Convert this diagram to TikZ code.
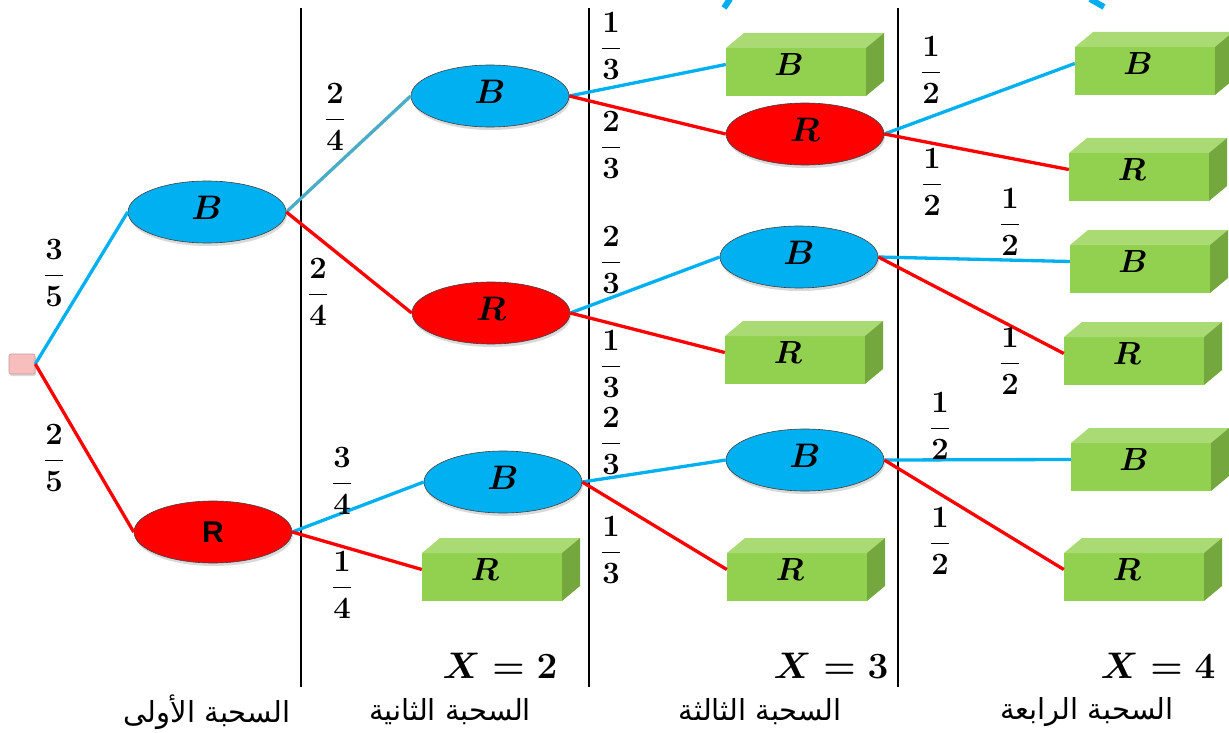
\RequirePackage{fix-cm}
\documentclass[tikz,border=0pt]{standalone}
\usepackage{amsmath}
\usepackage{fontspec}
\usetikzlibrary{shapes.geometric,shadows,calc}
\TeXXeTstate=1
\newfontfamily\arabicfont[Script=Arabic]{DejaVu Sans}
\newfontfamily\arialfont{Liberation Sans}
\definecolor{myblue}{RGB}{0,176,240}
\definecolor{myred}{RGB}{255,0,0}
\definecolor{myteal}{RGB}{75,172,198}
\definecolor{gfront}{RGB}{146,208,80}
\definecolor{gtop}{RGB}{169,218,116}
\definecolor{gside}{RGB}{116,167,62}
\definecolor{rootfill}{RGB}{248,190,190}
\tikzset{
  ell/.style={ellipse, minimum width=158pt, minimum height=62pt, inner sep=0pt,
    draw=black!75, line width=0.6pt, text depth=8pt,
    font=\fontsize{34}{34}\selectfont\boldmath,
    drop shadow={opacity=0.3, shadow xshift=1pt, shadow yshift=-3pt}},
  bell/.style={ell, fill=myblue},
  rell/.style={ell, fill=myred},
  cube/.style={rectangle, minimum width=158pt, minimum height=63pt, inner sep=0pt,
    path picture={
      \fill[gfront] (path picture bounding box.south west) rectangle
        ($(path picture bounding box.north east)+(-18pt,-15pt)$);
      \fill[gtop] ($(path picture bounding box.north west)+(0pt,-15pt)$) --
        ($(path picture bounding box.north west)+(18pt,0pt)$) --
        (path picture bounding box.north east) --
        ($(path picture bounding box.north east)+(-18pt,-15pt)$) -- cycle;
      \fill[gside] ($(path picture bounding box.north east)+(-18pt,-15pt)$) --
        (path picture bounding box.north east) --
        ($(path picture bounding box.south east)+(0pt,15pt)$) --
        ($(path picture bounding box.south east)+(-18pt,0pt)$) -- cycle;
    },
    label={[anchor=center, xshift=-16pt, inner sep=0pt,
      font=\fontsize{32}{32}\selectfont\boldmath]center:#1}},
  bl/.style={myblue, line width=3.3pt},
  rl/.style={myred, line width=3.3pt},
  tl/.style={myteal, line width=3.3pt},
  frac/.style={inner sep=0pt, font=\fontsize{31}{31}\selectfont\boldmath},
  xlab/.style={inner sep=0pt, font=\fontsize{37}{37}\selectfont\boldmath},
  arab/.style={inner sep=0pt, font=\arabicfont\fontsize{29}{34}\selectfont},
  sepline/.style={black, line width=1.1pt},
  rootsq/.style={rectangle, rounded corners=2pt, minimum width=26pt, minimum height=20pt,
    inner sep=0pt, fill=rootfill, draw=red!40!black!40, line width=0.6pt,
    drop shadow={opacity=0.3, shadow xshift=1pt, shadow yshift=-2pt}},
  topmark/.style={cyan, line width=6pt}
}
\begin{document}
\begin{tikzpicture}[x=1pt,y=-1pt]
\useasboundingbox (0,0) rectangle (1229,733);

% separators
\draw[sepline] (301,8) -- (301,687);
\draw[sepline] (589,8) -- (589,687);
\draw[sepline] (898,8) -- (898,687);

% cyan marks at the top edge
\draw[topmark] (724,8) -- (730,-1);
\draw[topmark] (1090,-1) -- (1104,7);

% nodes
\node[rootsq] (root) at (22,364) {};
\node[bell] (B1) at (207,212) {$B$};
\node[rell, text depth=0pt, font=\arialfont\bfseries\fontsize{30}{30}\selectfont] (R1) at (213,532) {R};
\node[bell] (B2a) at (490,96) {$B$};
\node[rell] (R2) at (491,313) {$R$};
\node[bell] (B2b) at (503,482) {$B$};
\node[cube=$R$] (Rbox2) at (501,569.5) {};
\node[cube=$B$] (B3a) at (805,64.5) {};
\node[rell] (R3a) at (805,134) {$R$};
\node[bell] (B3b) at (799,257) {$B$};
\node[cube=$R$] (R3b) at (804,352.5) {};
\node[bell] (B3c) at (805,460) {$B$};
\node[cube=$R$] (R3d) at (806,569.5) {};
\node[cube=$B$] (B4a) at (1154,63.5) {};
\node[cube=$R$] (R4b) at (1148,169.5) {};
\node[cube=$B$] (B4c) at (1149,261.5) {};
\node[cube=$R$] (R4d) at (1143,353.5) {};
\node[cube=$B$] (B4e) at (1150,459.5) {};
\node[cube=$R$] (R4f) at (1143,569.5) {};

% connectors
\draw[bl] (root.east) -- (B1.west);
\draw[rl] (root.east) -- (R1.west);
\draw[tl] (B1.east) -- (B2a.west);
\draw[rl] (B1.east) -- (R2.west);
\draw[bl] (R1.east) -- (B2b.west);
\draw[rl] (R1.east) -- (Rbox2.west);
\draw[bl] (B2a.east) -- (B3a.west);
\draw[rl] (B2a.east) -- (R3a.west);
\draw[bl] (R2.east) -- (B3b.west);
\draw[rl] (R2.east) -- (R3b.west);
\draw[bl] (B2b.east) -- (B3c.west);
\draw[rl] (B2b.east) -- (R3d.west);
\draw[bl] (R3a.east) -- (B4a.west);
\draw[rl] (R3a.east) -- (R4b.west);
\draw[bl] (B3b.east) -- (B4c.west);
\draw[rl] (B3b.east) -- (R4d.west);
\draw[bl] (B3c.east) -- (B4e.west);
\draw[rl] (B3c.east) -- (R4f.west);

% probabilities
\node[frac] (p1) at (54,273) {$\dfrac{3}{5}$};
\node[frac] (p2) at (54,458) {$\dfrac{2}{5}$};
\node[frac] (p3) at (335,117) {$\dfrac{2}{4}$};
\node[frac] (p4) at (318,292) {$\dfrac{2}{4}$};
\node[frac] (p5) at (342,481) {$\dfrac{3}{4}$};
\node[frac] (p6) at (342,585) {$\dfrac{1}{4}$};
\node[frac] (p7) at (611,46) {$\dfrac{1}{3}$};
\node[frac] (p8) at (611,145) {$\dfrac{2}{3}$};
\node[frac] (p9) at (611,260) {$\dfrac{2}{3}$};
\node[frac] (p10) at (611,364) {$\dfrac{1}{3}$};
\node[frac] (p11) at (611,441) {$\dfrac{2}{3}$};
\node[frac] (p12) at (611,550) {$\dfrac{1}{3}$};
\node[frac] (p13) at (931,70) {$\dfrac{1}{2}$};
\node[frac] (p14) at (932,182) {$\dfrac{1}{2}$};
\node[frac] (p15) at (1010,222) {$\dfrac{1}{2}$};
\node[frac] (p16) at (1010,361) {$\dfrac{1}{2}$};
\node[frac] (p17) at (940,426) {$\dfrac{1}{2}$};
\node[frac] (p18) at (940,541) {$\dfrac{1}{2}$};

% values of X
\node[xlab] (x2) at (500,666) {$X=2$};
\node[xlab] (x3) at (831,666) {$X=3$};
\node[xlab] (x4) at (1158,666) {$X=4$};

% draw labels
\node[arab] (d1) at (207,712) {\beginR السحبة الأولى\endR};
\node[arab] (d2) at (450,712) {\beginR السحبة الثانية\endR};
\node[arab] (d3) at (760,712) {\beginR السحبة الثالثة\endR};
\node[arab] (d4) at (1087,712) {\beginR السحبة الرابعة\endR};
\end{tikzpicture}
\end{document}
